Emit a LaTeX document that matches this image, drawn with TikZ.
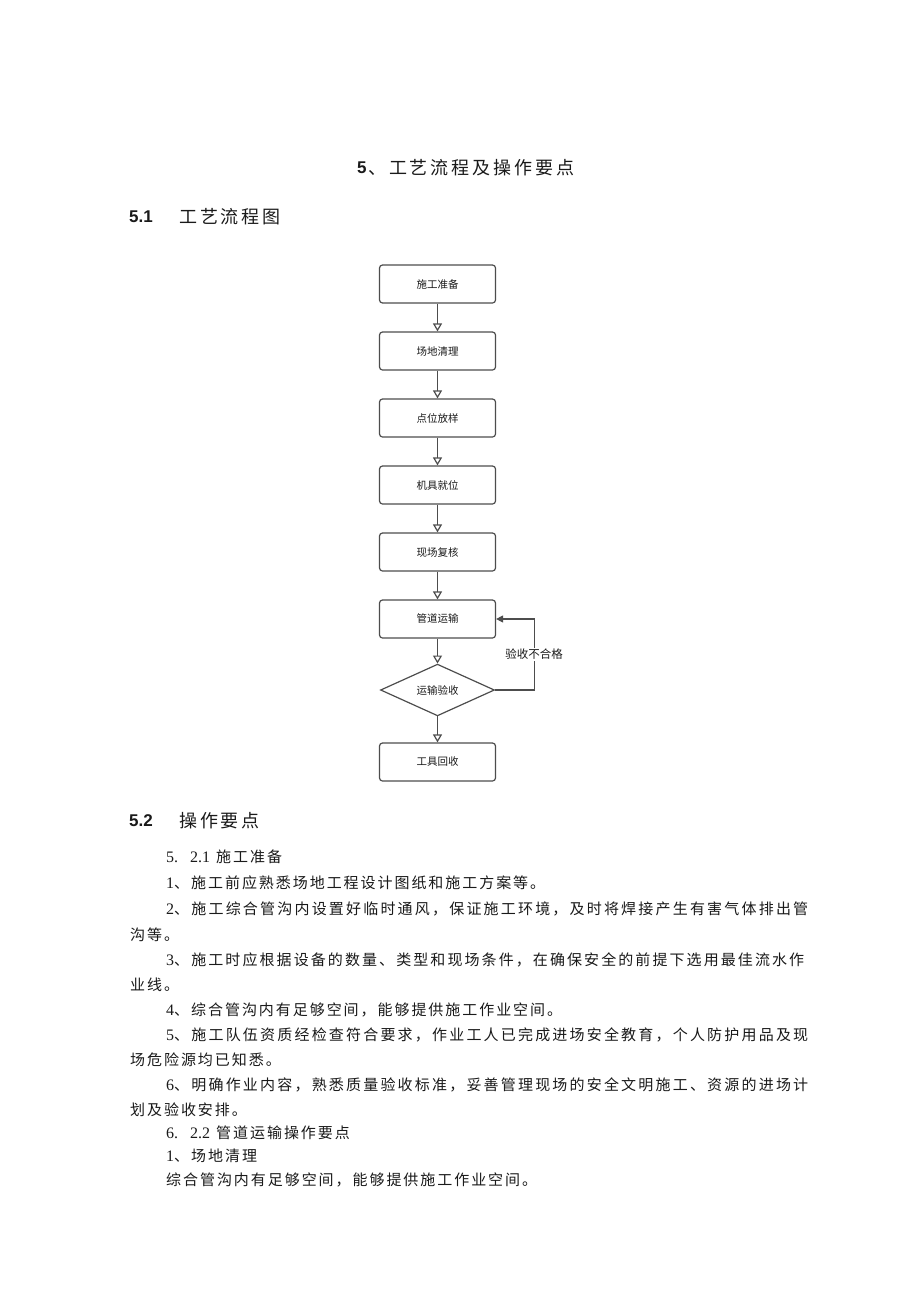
\documentclass[tikz,border=0pt]{standalone}
\usepackage{fontspec}
\setmainfont{Liberation Serif}
\newfontfamily\cjkbody[LetterSpace=13]{Noto Sans CJK SC}
\newfontfamily\cjkhead[LetterSpace=16]{Noto Sans CJK SC}
\newfontfamily\cjkplain{Noto Sans CJK SC}
\newfontfamily\arialf{Liberation Sans}
\newfontfamily\serifdg{Liberation Serif}
\usetikzlibrary{arrows.meta,shapes.geometric}
\definecolor{lineC}{HTML}{4D4D4D}
\definecolor{textC}{HTML}{1A1A1A}
\newcommand\bodyfnt{\cjkbody\fontsize{15}{18}\selectfont}
\newcommand\headfnt{\cjkhead\fontsize{18}{22}\selectfont}
\newcommand\numfnt{\arialf\bfseries\fontsize{17}{20}\selectfont}
\newcommand\boxfnt{\cjkplain\fontsize{10.5}{12}\selectfont}
\newcommand\dg[1]{{\serifdg\fontsize{16}{18}\selectfont #1}}
\makeatletter
\def\sprd@#1{\ifx#1\@nil\else#1\hskip 0pt plus 1fil\expandafter\sprd@\fi}
\newcommand\jline[2]{\hbox to #1{\sprd@#2\@nil\unskip}}
\makeatother
\tikzset{
  proc/.style={draw=lineC, line width=1.2pt, rounded corners=3pt, minimum width=116pt,
    minimum height=38pt, inner sep=0pt, font=\boxfnt, text=textC},
  dec/.style={draw=lineC, line width=1.2pt, diamond, minimum width=114pt,
    minimum height=47pt, inner sep=0pt, font=\boxfnt, text=textC},
  flow/.style={draw=lineC, line width=1.2pt, -{Triangle[open,length=8pt,width=9pt]}},
  back/.style={draw=lineC, line width=1.2pt, -{Triangle[length=7pt,width=7pt]}},
  txt/.style={anchor=west, inner sep=0pt, text=textC, font=\bodyfnt},
  lbl/.style={fill=white, inner sep=1pt, text=textC, font=\cjkplain\fontsize{11.5}{13}\selectfont}
}
\begin{document}
\begin{tikzpicture}[x=1pt,y=-1pt]
\fill[white] (0,0) rectangle (920,1301);
\path[use as bounding box] (0,0) rectangle (920,1301);

% headings
\node[anchor=west, inner sep=0pt, text=textC, font=\numfnt] (h0n) at (357,168) {5};
\node[anchor=west, inner sep=0pt, text=textC, font=\headfnt] (h0) at (368,168) {、工艺流程及操作要点};
\node[anchor=west, inner sep=0pt, text=textC, font=\numfnt] (h1n) at (129,217) {5.1};
\node[anchor=west, inner sep=0pt, text=textC, font=\headfnt] (h1) at (179,217) {工艺流程图};

% flowchart
\node[proc] (p1) at (437.5,284) {施工准备};
\node[proc] (p2) at (437.5,351) {场地清理};
\node[proc] (p3) at (437.5,418) {点位放样};
\node[proc] (p4) at (437.5,485) {机具就位};
\node[proc] (p5) at (437.5,552) {现场复核};
\node[proc] (p6) at (437.5,619) {管道运输};
\node[dec]  (d1) at (437.5,690) {运输验收};
\node[proc] (p7) at (437.5,762) {工具回收};
\draw[flow] (p1) -- (p2);
\draw[flow] (p2) -- (p3);
\draw[flow] (p3) -- (p4);
\draw[flow] (p4) -- (p5);
\draw[flow] (p5) -- (p6);
\draw[flow] (p6) -- (d1);
\draw[flow] (d1) -- (p7);
\draw[back] (d1.east) -- ++(39,0) |- (p6.east) node[lbl, pos=0.25] (lb) {验收不合格};

% section 5.2
\node[anchor=west, inner sep=0pt, text=textC, font=\numfnt] (h2n) at (129,821) {5.2};
\node[anchor=west, inner sep=0pt, text=textC, font=\headfnt] (h2) at (179,821) {操作要点};

\node[txt] (l1) at (166,857) {\dg{5.}\hspace{12pt}\dg{2.1}\hspace{6pt}施工准备};
\node[txt] (l2) at (166,883) {\dg{1}、施工前应熟悉场地工程设计图纸和施工方案等。};
\node[txt] (l3) at (166,909) {\dg{2}\jline{634pt}{、施工综合管沟内设置好临时通风，保证施工环境，及时将焊接产生有害气体排出管}};
\node[txt] (l4) at (130,935) {沟等。};
\node[txt] (l5) at (166,960) {\dg{3}\jline{630pt}{、施工时应根据设备的数量、类型和现场条件，在确保安全的前提下选用最佳流水作}};
\node[txt] (l6) at (130,985) {业线。};
\node[txt] (l7) at (166,1010) {\dg{4}、综合管沟内有足够空间，能够提供施工作业空间。};
\node[txt] (l8) at (166,1035) {\dg{5}\jline{634pt}{、施工队伍资质经检查符合要求，作业工人已完成进场安全教育，个人防护用品及现}};
\node[txt] (l9) at (130,1060) {场危险源均已知悉。};
\node[txt] (l10) at (166,1085) {\dg{6}\jline{634pt}{、明确作业内容，熟悉质量验收标准，妥善管理现场的安全文明施工、资源的进场计}};
\node[txt] (l11) at (130,1110) {划及验收安排。};
\node[txt] (l12) at (166,1133) {\dg{6.}\hspace{12pt}\dg{2.2}\hspace{6pt}管道运输操作要点};
\node[txt] (l13) at (166,1156) {\dg{1}、场地清理};
\node[txt] (l14) at (166,1180) {综合管沟内有足够空间，能够提供施工作业空间。};
\end{tikzpicture}
\end{document}
